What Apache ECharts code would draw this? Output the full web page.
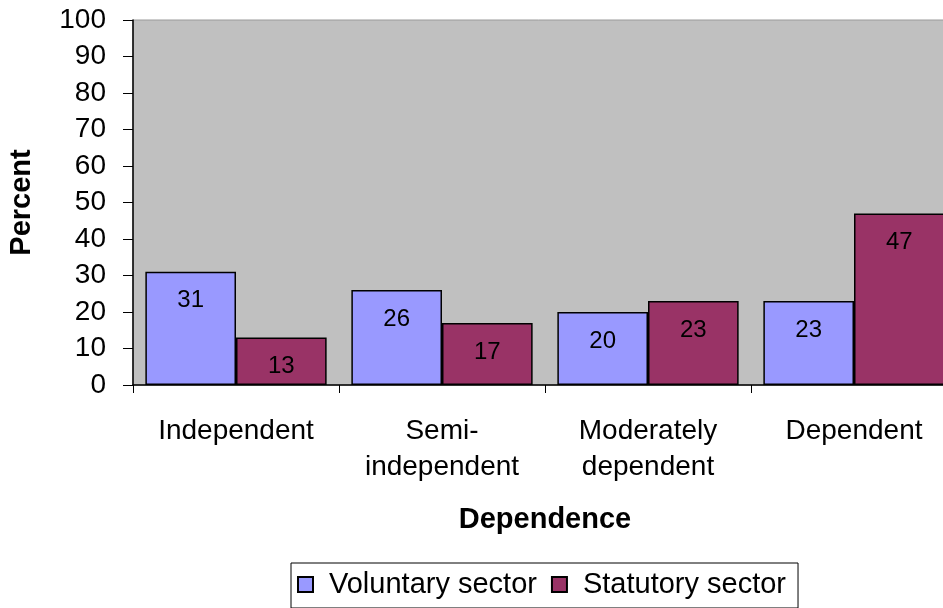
<!DOCTYPE html>
<html>
<head>
<meta charset="utf-8">
<script src="https://cdn.jsdelivr.net/npm/echarts@6/dist/echarts.min.js"></script>
<style>
  html, body { margin: 0; padding: 0; background: #ffffff; }
  #chart { width: 943px; height: 608px; }
</style>
</head>
<body>
<div id="chart"></div>
<script>
  // chart data
  var categories = ['Independent', 'Semi-\nindependent', 'Moderately\ndependent', 'Dependent'];
  var voluntary = [31, 26, 20, 23];
  var statutory = [13, 17, 23, 47];
  var yTicks = { min: 0, max: 100, interval: 10 };

  var chart = echarts.init(document.getElementById('chart'));
  var font = 'Liberation Sans, Arial, sans-serif';

  var barLabel = {
    show: true,
    position: 'insideTop',
    distance: 17,
    color: '#000',
    fontSize: 24,
    fontFamily: font
  };

  var option = {
    animation: false,
    textStyle: { fontFamily: font },
    grid: {
      left: 133,
      top: 20,
      width: 824,
      height: 365,
      outerBoundsMode: 'none',
      containLabel: false,
      show: true,
      backgroundColor: '#c0c0c0',
      borderColor: '#9a9a9a',
      borderWidth: 1
    },
    legend: {
      left: 291,
      top: 563,
      orient: 'horizontal',
      icon: 'rect',
      itemWidth: 15,
      itemHeight: 15,
      itemGap: 14,
      padding: [7, 12, 9, 6],
      borderColor: '#000',
      borderWidth: 1,
      textStyle: { fontSize: 29, color: '#000', fontFamily: font, padding: [0, 0, 0, 11] },
      data: ['Voluntary sector', 'Statutory sector']
    },
    xAxis: {
      type: 'category',
      data: categories,
      name: 'Dependence',
      nameLocation: 'middle',
      nameGap: 120,
      nameTextStyle: { fontSize: 29, fontWeight: 'bold', color: '#000', fontFamily: font },
      axisLine: { lineStyle: { color: '#000', width: 1.5 } },
      axisTick: { show: true, interval: 0, length: 8, lineStyle: { color: '#000' } },
      axisLabel: { interval: 0, fontSize: 28, color: '#000', lineHeight: 36, margin: 28, fontFamily: font },
      splitLine: { show: false }
    },
    yAxis: {
      type: 'value',
      min: yTicks.min,
      max: yTicks.max,
      interval: yTicks.interval,
      name: 'Percent',
      nameLocation: 'middle',
      nameGap: 97,
      nameRotate: 90,
      nameTextStyle: { fontSize: 29, fontWeight: 'bold', color: '#000', fontFamily: font },
      axisLine: { show: true, lineStyle: { color: '#000', width: 1.5 } },
      axisTick: { show: true, length: 10, lineStyle: { color: '#000' } },
      axisLabel: { fontSize: 28, color: '#000', margin: 27, fontFamily: font },
      splitLine: { show: false }
    },
    series: [
      {
        name: 'Voluntary sector',
        type: 'bar',
        data: voluntary,
        barGap: '0%',
        barCategoryGap: '12%',
        itemStyle: { color: '#9999ff', borderColor: '#000', borderWidth: 1.5 },
        label: barLabel
      },
      {
        name: 'Statutory sector',
        type: 'bar',
        data: statutory,
        itemStyle: { color: '#993366', borderColor: '#000', borderWidth: 1.5 },
        label: barLabel
      }
    ]
  };

  chart.setOption(option);
</script>
</body>
</html>
